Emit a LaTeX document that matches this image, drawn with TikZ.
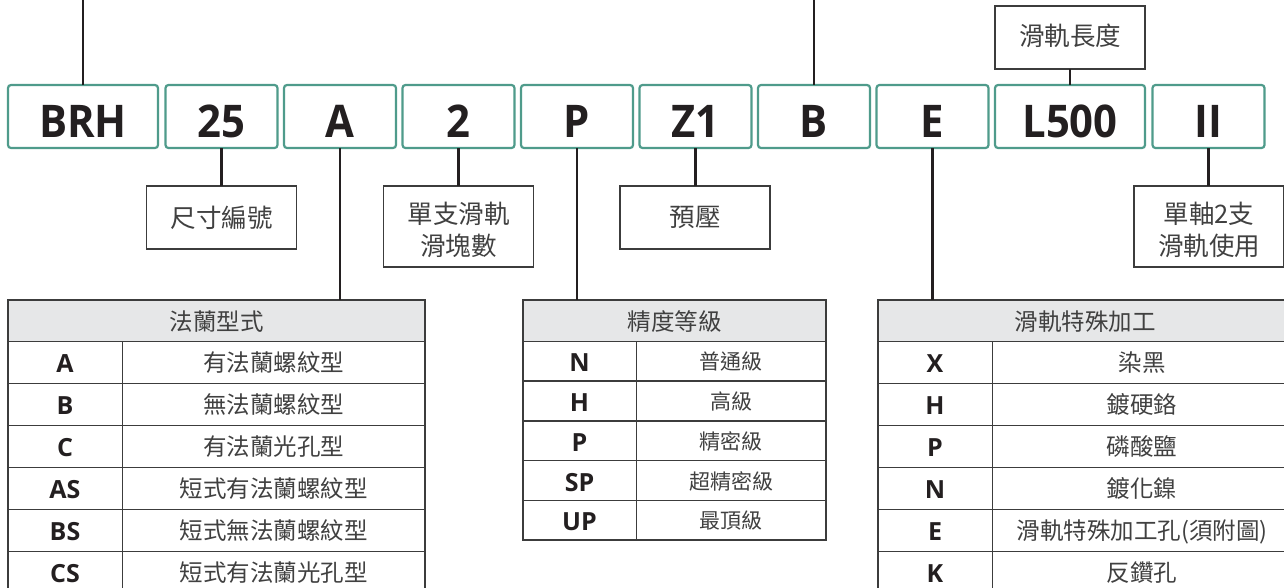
\documentclass[tikz,border=0pt]{standalone}
\usepackage{fontspec}
\setmainfont{Open Sans}
\newfontfamily\keyfont[FakeStretch=0.93]{Open Sans}
\newfontfamily\cjk{Noto Sans CJK TC}
\definecolor{keygreen}{HTML}{4F9B8B}
\definecolor{ink}{HTML}{231F20}
\definecolor{cjkink}{HTML}{404040}
\definecolor{headfill}{HTML}{E6E7E8}
\definecolor{rule}{HTML}{3C3C3C}
\newcommand{\labelstrut}{\rule{0pt}{28pt}}
\tikzset{
  keybox/.style={draw=keygreen,line width=2.2pt,rounded corners=3pt,fill=white,inner sep=0pt,outer sep=0pt,
    minimum height=63pt,text height=41pt,text depth=0pt,text=ink,font=\keyfont\bfseries\fontsize{45}{45}\selectfont},
  narrowkey/.style={keybox,minimum width=112pt},
  widekey/.style={keybox,minimum width=150pt},
  labelbox/.style={draw=rule,line width=1.1pt,inner sep=0pt,outer sep=0pt,minimum width=150pt,text=cjkink,align=center,
    font=\cjk\fontsize{25.5}{32}\selectfont},
  stem/.style={draw=ink,line width=2.2pt},
  cell/.style={draw=rule,line width=.9pt,inner sep=0pt,outer sep=0pt},
  headcell/.style={cell,fill=headfill,minimum height=41pt,text height=19.5pt,text depth=0pt,text=cjkink,
    font=\cjk\fontsize{23.5}{23.5}\selectfont},
  lettercell/.style={cell,text height=21.4pt,text depth=0pt,text=ink,font=\bfseries\fontsize{25}{25}\selectfont},
  textcell/.style={cell,text height=19.5pt,text depth=0pt,text=cjkink,font=\cjk\fontsize{23.5}{23.5}\selectfont},
  frame/.style={draw=rule,line width=1.7pt}
}
\begin{document}
\begin{tikzpicture}[x=1pt,y=-1pt]
\useasboundingbox (0,0) rectangle (1284,587);
\clip (0,0) rectangle (1284,587);
% key row
\node[widekey] (kBRH) at (83,116.5) {BRH};
\node[narrowkey] (k25) at (221.5,116.5) {25};
\node[narrowkey] (kA) at (340,116.5) {A};
\node[narrowkey] (k2) at (458.5,116.5) {2};
\node[narrowkey] (kP) at (577,116.5) {P};
\node[narrowkey] (kZ) at (695.5,116.5) {Z1};
\node[narrowkey] (kB) at (814,116.5) {B};
\node[narrowkey] (kE) at (932.5,116.5) {E};
\node[widekey] (kL) at (1070,116.5) {L500};
\node[narrowkey] (kII) at (1208.5,116.5) {II};
% label boxes
\node[labelbox,minimum height=63pt] (l25) at (221.5,217.5) {尺寸編號};
\node[labelbox,minimum height=81pt] (l2) at (458.5,226.5) {\labelstrut 單支滑軌\\滑塊數};
\node[labelbox,minimum height=63pt] (lZ) at (695,217.5) {預壓};
\node[labelbox,minimum height=63pt,text height=22.4pt,text depth=7pt] (lL) at (1070,37.5) {滑軌長度};
\node[labelbox,minimum height=81pt] (lII) at (1209,226.5) {\labelstrut 單軸2支\\滑軌使用};
% table A
\node[headcell,minimum width=417pt] (hA) at (216.5,320.5) {法蘭型式};
\foreach \i/\y/\a/\b in {1/362/A/有法蘭螺紋型,2/404/B/無法蘭螺紋型,3/446/C/有法蘭光孔型,4/488/AS/短式有法蘭螺紋型,5/530/BS/短式無法蘭螺紋型,6/572/CS/短式有法蘭光孔型}{
  \node[lettercell,minimum width=114pt,minimum height=42pt] (uA\i) at (65,\y) {\a};
  \node[textcell,minimum width=303pt,minimum height=42pt] (vA\i) at (273.5,\y) {\b};
}
\draw[frame] (hA.north west) rectangle (vA6.south east);
% table P
\node[headcell,minimum width=303pt] (hP) at (674.5,320.5) {精度等級};
\foreach \i/\y/\a/\b in {1/361/N/普通級,2/401/H/高級,3/441/P/精密級,4/480.5/SP/超精密級,5/520/UP/最頂級}{
  \node[lettercell,minimum width=113pt,minimum height=39.8pt] (uP\i) at (579.5,\y) {\a};
  \node[textcell,minimum width=190pt,minimum height=39.8pt,font=\cjk\fontsize{21}{21}\selectfont,text height=17.5pt] (vP\i) at (731,\y) {\b};
}
\draw[frame] (hP.north west) rectangle (vP5.south east);
% table E
\node[headcell,minimum width=414pt] (hE) at (1085,320.5) {滑軌特殊加工};
\foreach \i/\y/\a/\b in {1/362/X/染黑,2/404/H/鍍硬鉻,3/446/P/磷酸鹽,4/488/N/鍍化鎳,5/530/E/滑軌特殊加工孔(須附圖),6/572/K/反鑽孔}{
  \node[lettercell,minimum width=114pt,minimum height=42pt] (uE\i) at (935,\y) {\a};
  \node[textcell,minimum width=300pt,minimum height=42pt] (vE\i) at (1142,\y) {\b};
}
\draw[frame] (hE.north west) rectangle (vE6.south east);
% connectors
\coordinate (topBRH) at (83,0);
\coordinate (topB) at (814,0);
\draw[stem] (topBRH) -- (kBRH.north);
\draw[stem] (topB) -- (kB.north);
\draw[stem] (k25.south) -- (l25.north);
\draw[stem] (kA.south) -- (kA.south |- hA.north);
\draw[stem] (k2.south) -- (l2.north);
\draw[stem] (kP.south) -- (kP.south |- hP.north);
\draw[stem] (kZ.south) -- (kZ.south |- lZ.north);
\draw[stem] (kE.south) -- (kE.south |- hE.north);
\draw[stem] (lL.south) -- (kL.north);
\draw[stem] (kII.south) -- (kII.south |- lII.north);
\end{tikzpicture}
\end{document}
